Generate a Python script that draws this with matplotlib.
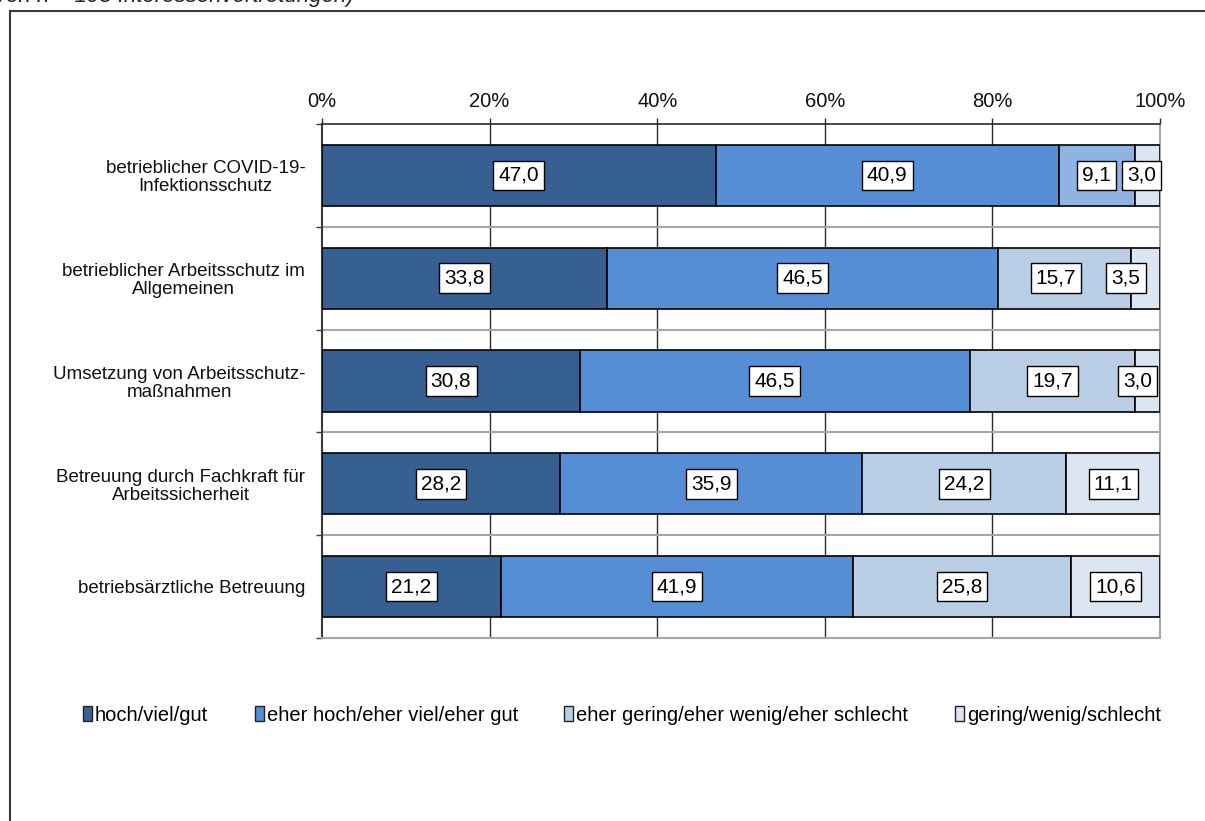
import matplotlib
matplotlib.use("Agg")
import matplotlib.pyplot as plt
from matplotlib.lines import Line2D
from matplotlib.patches import Patch
import numpy as np

plt.rcParams["font.family"] = ["Liberation Sans", "DejaVu Sans"]

# Survey items (top to bottom)
categories = [
    "betrieblicher COVID-19-\nInfektionsschutz",
    "betrieblicher Arbeitsschutz im\nAllgemeinen",
    "Umsetzung von Arbeitsschutz-\nmaßnahmen",
    "Betreuung durch Fachkraft für\nArbeitssicherheit",
    "betriebsärztliche Betreuung",
]

series_names = [
    "hoch/viel/gut",
    "eher hoch/eher viel/eher gut",
    "eher gering/eher wenig/eher schlecht",
    "gering/wenig/schlecht",
]

# Shares in percent per item
hoch = [47.0, 33.8, 30.8, 28.2, 21.2]
eher_hoch = [40.9, 46.5, 46.5, 35.9, 41.9]
eher_gering = [9.1, 15.7, 19.7, 24.2, 25.8]
gering = [3.0, 3.5, 3.0, 11.1, 10.6]

tick_values = [0, 20, 40, 60, 80, 100]
tick_labels = ["0%", "20%", "40%", "60%", "80%", "100%"]

subtitle = "von n = 198 Interessenvertretungen)"

# Styling
series = [hoch, eher_hoch, eher_gering, gering]
base_colors = ["#376092", "#558ED5", "#B9CDE5", "#DCE6F2"]
# the COVID item's third segment is drawn in a stronger blue
segment_colors = [[c] * len(categories) for c in base_colors]
segment_colors[2][0] = "#8EB4E3"
# small horizontal nudges (in %) for crowded value labels: (series, row) -> dx
label_nudge = {(3, 0): -0.7, (2, 1): -1.0, (3, 1): -2.3, (3, 2): -1.2}

W, H = 1205, 821
fig = plt.figure(figsize=(W / 100, H / 100), dpi=100)
fig.patch.set_facecolor("white")

ax = fig.add_axes([322 / W, 1 - 638 / H, (1160 - 322) / W, (638 - 124) / H])
ax.set_xlim(0, 100)
ax.set_ylim(len(categories) - 0.5, -0.5)

# 100 % stacked: each row is scaled to its own total
values = np.array(series, dtype=float)
totals = values.sum(axis=0)
shares = values / totals * 100.0

y = np.arange(len(categories))
left = np.zeros(len(categories))
for si in range(len(series)):
    widths = shares[si]
    ax.barh(y, widths, left=left, height=0.595, color=segment_colors[si],
            edgecolor="black", linewidth=1.2, zorder=3)
    for ri, v in enumerate(values[si]):
        cx = left[ri] + widths[ri] / 2 + label_nudge.get((si, ri), 0.0)
        ax.text(cx, y[ri], f"{v:.1f}".replace(".", ","), ha="center", va="center",
                fontsize=15, color="black", zorder=5,
                bbox=dict(boxstyle="square,pad=0.25", facecolor="white",
                          edgecolor="black", linewidth=1.0))
    left = left + widths

# grid: vertical lines at major ticks, horizontal lines at category boundaries
for xv in tick_values[1:-1]:
    ax.axvline(xv, color="#2a2a2a", linewidth=1.0, zorder=1)
for b in np.arange(-0.5, len(categories), 1.0)[1:]:
    ax.axhline(b, color="#a6a6a6", linewidth=1.5, zorder=1)

for side in ["right", "bottom"]:
    ax.spines[side].set_color("#a6a6a6")
    ax.spines[side].set_linewidth(1.5)
ax.spines["top"].set_color("#2a2a2a")
ax.spines["top"].set_linewidth(1.2)
ax.spines["left"].set_color("#3a3a3a")
ax.spines["left"].set_linewidth(1.5)

ax.xaxis.tick_top()
ax.set_xticks(tick_values)
ax.set_xticklabels(tick_labels, fontsize=14.5)
ax.tick_params(axis="x", direction="out", length=4.5, width=1.0, color="#2a2a2a",
               pad=5, labelcolor="#111111")

ax.set_yticks(y)
ax.set_yticklabels(categories, fontsize=13.5, linespacing=1.08)
for lab in ax.get_yticklabels():
    lab.set_multialignment("center")
ax.set_yticks(np.arange(-0.5, len(categories), 1.0), minor=True)
ax.tick_params(axis="y", which="major", length=0, pad=12, labelcolor="#111111")
ax.tick_params(axis="y", which="minor", direction="out", length=4, width=1.0,
               color="#3a3a3a")

# legend
handles = [Patch(facecolor=c, edgecolor="#222222", linewidth=1.0) for c in base_colors]
fig.legend(handles, series_names, loc="center", bbox_to_anchor=(0.516, 1 - 715 / H),
           ncol=4, frameon=False, fontsize=14.5, handlelength=0.45, handleheight=0.7,
           handletextpad=0.15, columnspacing=2.3, borderaxespad=0)

# outer frame and clipped caption above it
fig.add_artist(Line2D([9.5 / W, 9.5 / W], [0, 1 - 11 / H], color="#3a3a3a",
                      linewidth=1.5, transform=fig.transFigure))
fig.add_artist(Line2D([9.5 / W, 1.0], [1 - 11 / H, 1 - 11 / H], color="#3a3a3a",
                      linewidth=1.5, transform=fig.transFigure))
fig.text(-0.004, 1 - 2 / H, subtitle, fontsize=16, style="italic", va="baseline",
         ha="left", color="#222222")

fig.savefig("out.png", dpi=100, facecolor="white")
